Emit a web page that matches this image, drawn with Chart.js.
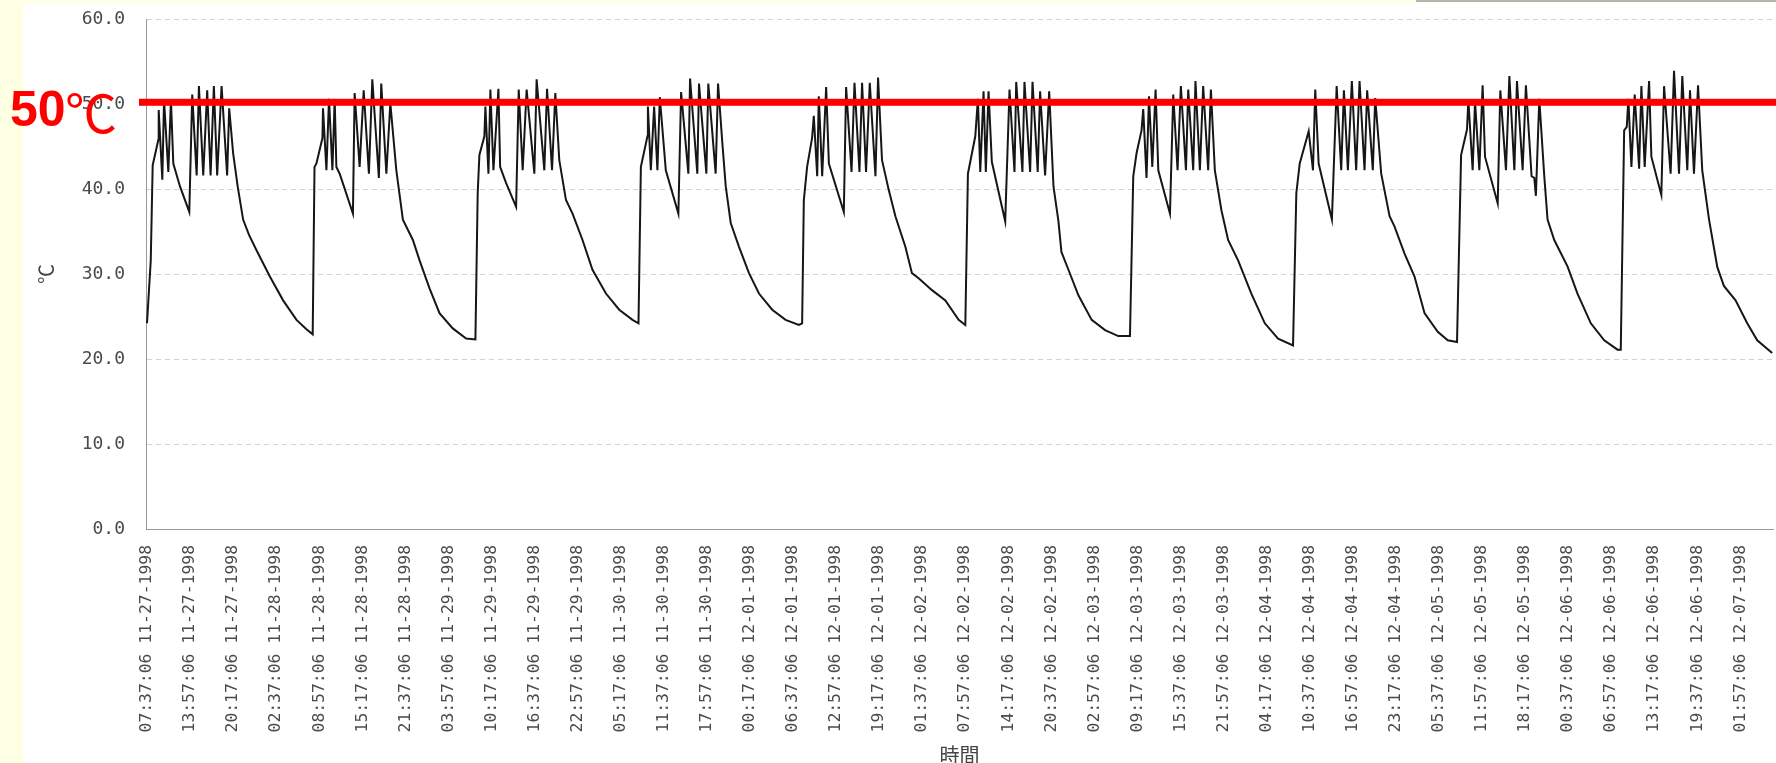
<!DOCTYPE html>
<html>
<head>
<meta charset="utf-8">
<script src="https://cdn.jsdelivr.net/npm/chart.js@4.4.1/dist/chart.umd.min.js"></script>
<style>
  html, body { margin: 0; padding: 0; background: #FFFFE3; overflow: hidden; }
  canvas { display: block; }
</style>
</head>
<body>
<canvas id="chartTemp" width="1776" height="763"></canvas>
<script>
// x values are minutes since 07:37:06 11-27-1998, y values are degrees C
const day1 = [[0,24.2],[33,31.6],[50,42.8],[100,45.8],[103,49.3],[135,41.1],[150,50.5],[188,42.0],[211,50.5],[232,43.0],[291,40.3],[373,37.3],[399,51.1],[438,41.6],[458,52.1],[496,41.6],[531,51.6],[561,41.6],[590,52.1],[619,41.6],[658,52.1],[707,41.6],[725,49.5],[760,44.2],[800,40.3],[848,36.4],[900,34.6],[966,32.8],[1084,29.7],[1201,26.9],[1319,24.6],[1407,23.5],[1462,22.9]];
const day2 = [[1478,42.6],[1495,43.0],[1548,46.0],[1553,49.5],[1583,42.2],[1606,50.6],[1636,42.2],[1656,50.6],[1671,42.6],[1700,41.8],[1817,37.1],[1832,51.3],[1876,42.6],[1912,51.6],[1958,41.8],[1988,52.9],[2046,41.3],[2067,52.4],[2112,41.8],[2147,50.1],[2200,42.2],[2258,36.4],[2346,34.0],[2405,31.6],[2493,28.3],[2581,25.4],[2698,23.6],[2816,22.4],[2898,22.3]];
const day3 = [[2918,39.5],[2933,44.0],[2977,46.2],[2986,49.7],[3013,41.8],[3030,51.7],[3057,42.2],[3101,51.8],[3116,42.6],[3169,40.7],[3257,37.9],[3280,51.7],[3315,42.2],[3350,51.7],[3418,41.8],[3438,52.9],[3506,42.2],[3530,51.8],[3574,42.2],[3603,51.3],[3638,43.4],[3697,38.7],[3755,37.1],[3843,34.0],[3931,30.5],[4050,27.7],[4167,25.8],[4284,24.6],[4337,24.2]];
const day4 = [[4358,42.6],[4416,46.2],[4420,49.7],[4446,42.2],[4475,49.7],[4504,42.2],[4525,50.8],[4578,42.2],[4689,37.1],[4713,51.4],[4777,41.8],[4792,53.0],[4856,41.8],[4871,52.4],[4936,41.8],[4953,52.4],[5018,41.8],[5039,52.4],[5077,45.4],[5107,40.3],[5151,36.0],[5224,33.2],[5312,30.1],[5400,27.7],[5517,25.8],[5635,24.6],[5752,24.0],[5781,24.2]];
const day5 = [[5796,38.7],[5825,42.6],[5869,46.0],[5884,48.6],[5914,41.5],[5928,50.9],[5958,41.5],[5993,52.0],[6017,43.0],[6149,37.3],[6169,52.0],[6217,42.0],[6243,52.5],[6287,42.0],[6310,52.5],[6345,42.0],[6378,52.5],[6428,41.5],[6451,53.1],[6486,43.4],[6545,39.9],[6604,36.8],[6692,33.2],[6750,30.1],[6809,29.5],[6927,28.1],[7045,26.9],[7162,24.6],[7221,24.0]];
const day6 = [[7244,41.8],[7309,46.2],[7332,50.6],[7353,42.0],[7382,51.5],[7402,42.0],[7426,51.5],[7455,43.2],[7573,36.2],[7611,51.7],[7655,42.0],[7670,52.6],[7725,42.0],[7743,52.6],[7793,42.0],[7814,52.6],[7860,42.0],[7881,51.5],[7925,41.6],[7961,51.5],[7999,40.3],[8043,36.2],[8069,32.6],[8131,30.5],[8219,27.5],[8336,24.6],[8454,23.4],[8571,22.7],[8674,22.7]];
const day7 = [[8703,41.5],[8732,44.2],[8776,46.9],[8791,49.4],[8820,41.3],[8842,50.9],[8871,42.6],[8900,51.7],[8924,42.2],[9027,37.1],[9056,51.1],[9094,42.2],[9123,52.1],[9168,42.2],[9188,51.7],[9232,42.2],[9252,52.7],[9291,42.2],[9320,52.1],[9364,42.2],[9388,51.7],[9423,42.2],[9481,37.5],[9540,34.0],[9628,31.6],[9745,27.7],[9864,24.2],[9981,22.4],[10113,21.6]];
const day8 = [[10142,39.5],[10172,43.0],[10251,46.8],[10289,42.2],[10309,51.7],[10339,43.0],[10456,36.4],[10498,52.1],[10538,42.2],[10562,51.6],[10597,42.2],[10632,52.7],[10670,42.2],[10700,52.7],[10744,42.2],[10767,51.6],[10817,42.2],[10838,50.7],[10891,41.8],[10965,36.8],[11008,35.6],[11097,32.4],[11185,29.7],[11273,25.4],[11390,23.2],[11478,22.2],[11560,22.0]];
const day9 = [[11596,44.0],[11648,47.0],[11660,50.5],[11698,42.2],[11719,50.3],[11757,42.2],[11786,52.2],[11807,43.8],[11919,38.3],[11942,51.6],[11992,42.2],[12022,53.3],[12066,42.2],[12089,52.7],[12139,42.2],[12168,52.2],[12218,41.5],[12242,41.3],[12256,39.2],[12286,50.6],[12330,41.5],[12359,36.4],[12418,34.0],[12535,30.9],[12623,27.7],[12741,24.2],[12859,22.2],[12976,21.1],[13005,21.1]];
const day10 = [[13035,46.9],[13058,47.3],[13072,50.6],[13099,42.6],[13128,51.1],[13167,42.4],[13187,52.1],[13216,42.6],[13255,52.7],[13275,43.8],[13363,39.3],[13387,52.1],[13445,41.8],[13475,53.9],[13519,41.8],[13548,53.3],[13592,42.2],[13616,51.6],[13651,41.8],[13687,52.2],[13724,42.2],[13784,36.4],[13857,30.8],[13915,28.6],[14018,26.9],[14121,24.2],[14209,22.2],[14341,20.7]];

const xTickLabels = [
  '07:37:06 11-27-1998', '13:57:06 11-27-1998', '20:17:06 11-27-1998',
  '02:37:06 11-28-1998', '08:57:06 11-28-1998', '15:17:06 11-28-1998', '21:37:06 11-28-1998',
  '03:57:06 11-29-1998', '10:17:06 11-29-1998', '16:37:06 11-29-1998', '22:57:06 11-29-1998',
  '05:17:06 11-30-1998', '11:37:06 11-30-1998', '17:57:06 11-30-1998',
  '00:17:06 12-01-1998', '06:37:06 12-01-1998', '12:57:06 12-01-1998', '19:17:06 12-01-1998',
  '01:37:06 12-02-1998', '07:57:06 12-02-1998', '14:17:06 12-02-1998', '20:37:06 12-02-1998',
  '02:57:06 12-03-1998', '09:17:06 12-03-1998', '15:37:06 12-03-1998', '21:57:06 12-03-1998',
  '04:17:06 12-04-1998', '10:37:06 12-04-1998', '16:57:06 12-04-1998', '23:17:06 12-04-1998',
  '05:37:06 12-05-1998', '11:57:06 12-05-1998', '18:17:06 12-05-1998',
  '00:37:06 12-06-1998', '06:57:06 12-06-1998', '13:17:06 12-06-1998', '19:37:06 12-06-1998',
  '01:57:06 12-07-1998'
];
const tickStepMin = 380;   // 6h20m between labels
const yTicks = [0, 10, 20, 30, 40, 50, 60];
const limitTemp = 50.2;
const limitText = '50';
const limitUnit = '℃';

const allPoints = [].concat(day1, day2, day3, day4, day5, day6, day7, day8, day9, day10)
  .map(p => ({ x: p[0], y: p[1] }));

// page background, white scan area, limit line and its label
const paperPlugin = {
  id: 'paper',
  beforeDraw(chart) {
    const ctx = chart.ctx;
    ctx.save();
    ctx.fillStyle = '#FFFFE3';
    ctx.fillRect(0, 0, chart.width, chart.height);
    ctx.fillStyle = '#ffffff';
    ctx.fillRect(23, 3, chart.width - 23, chart.height - 3);
    ctx.fillStyle = '#b4b4b4';
    ctx.fillRect(1416, 0, chart.width - 1416, 2);
    ctx.restore();
  },
  afterDatasetsDraw(chart) {
    const ctx = chart.ctx;
    const y = chart.scales.y.getPixelForValue(limitTemp);
    ctx.save();
    ctx.fillStyle = '#ff0000';
    ctx.fillRect(139, y - 3.5, chart.width - 139, 7);
    ctx.textBaseline = 'middle';
    ctx.font = 'bold 50px "Liberation Sans", Arial, sans-serif';
    ctx.fillText(limitText, 10, y + 10);
    ctx.font = '52px "Noto Sans CJK JP", sans-serif';
    ctx.fillText(limitUnit, 65, y + 11);
    ctx.restore();
  }
};

const ctxTemp = document.getElementById('chartTemp').getContext('2d');
const chartTemp = new Chart(ctxTemp, {
  type: 'line',
  data: {
    datasets: [{
      data: allPoints,
      borderColor: '#161616',
      borderWidth: 2,
      pointRadius: 0,
      tension: 0,
      fill: false
    }]
  },
  options: {
    responsive: false,
    animation: false,
    devicePixelRatio: 1,
    layout: { padding: { top: 19, left: 0, right: 0, bottom: 0 } },
    plugins: {
      legend: { display: false },
      tooltip: { enabled: false }
    },
    scales: {
      x: {
        type: 'linear',
        min: -9,
        max: 14350,
        afterBuildTicks: scale => {
          scale.ticks = xTickLabels.map((_, i) => ({ value: i * tickStepMin }));
        },
        afterFit: scale => { scale.height = 234; },
        ticks: {
          autoSkip: false,
          minRotation: 90,
          maxRotation: 90,
          padding: 16,
          color: '#4a4a4a',
          font: { family: '"DejaVu Sans Mono", monospace', size: 16.4 },
          callback: (value, index) => xTickLabels[index]
        },
        grid: { display: false, drawTicks: false },
        border: { display: true, color: '#9a9a9a', width: 1 },
        title: {
          display: true,
          text: '時間',
          color: '#444',
          font: { family: '"Noto Sans CJK JP", sans-serif', size: 20 },
          padding: { top: 0, bottom: -4 }
        }
      },
      y: {
        min: 0,
        max: 60,
        afterBuildTicks: scale => {
          scale.ticks = yTicks.map(v => ({ value: v }));
        },
        afterFit: scale => {
          scale.width = 146;
          scale.paddingTop = 0;
          scale.paddingBottom = 0;
        },
        ticks: {
          padding: 21,
          color: '#4a4a4a',
          font: { family: '"DejaVu Sans Mono", monospace', size: 18 },
          callback: value => value.toFixed(1)
        },
        grid: { color: 'rgba(0,0,0,0.17)', drawTicks: false },
        border: { display: true, color: '#999', width: 1, dash: [5, 4] },
        title: {
          display: true,
          text: '℃',
          color: '#444',
          font: { family: '"Noto Sans CJK JP", sans-serif', size: 20 },
          padding: { top: 34, bottom: 0 }
        }
      }
    }
  },
  plugins: [paperPlugin]
});
</script>
</body>
</html>
